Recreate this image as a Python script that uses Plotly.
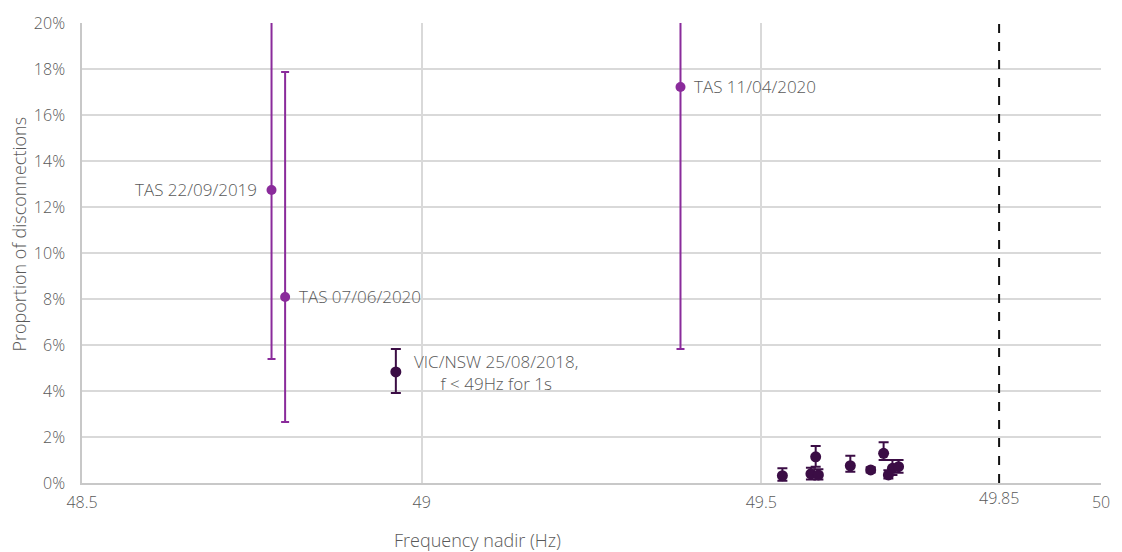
import plotly.graph_objects as go

# ---- data ----
tas_labels = ["TAS 22/09/2019", "TAS 07/06/2020", "TAS 11/04/2020"]
tas_freq = [48.779, 48.799, 49.381]
tas_prop = [0.1274, 0.0809, 0.1722]
tas_upper = [0.26, 0.1787, 0.26]
tas_lower = [0.0539, 0.0265, 0.0583]

other_freq = [48.962, 49.531, 49.573, 49.584, 49.580, 49.631, 49.661, 49.680, 49.693, 49.702, 49.687]
other_prop = [0.0483, 0.0032, 0.0040, 0.0035, 0.0114, 0.0075, 0.0057, 0.0129, 0.0064, 0.0071, 0.0035]
other_upper = [0.0583, 0.0064, 0.0066, 0.0060, 0.0161, 0.0119, 0.0068, 0.0177, 0.0100, 0.0100, 0.0055]
other_lower = [0.0391, 0.0010, 0.0015, 0.0015, 0.0071, 0.0049, 0.0046, 0.0100, 0.0035, 0.0045, 0.0020]

vic_label = "VIC/NSW 25/08/2018,<br>f < 49Hz for 1s"
threshold = 49.85
x_ticks = [48.5, 49, 49.5, 50]

PURPLE = "#8a2b9b"
DARK = "#3b0d45"
TEXT = "#595959"
GRID = "#d9d9d9"
FONT = "Open Sans"
W = 300

fig = go.Figure()

fig.add_trace(go.Scatter(
    x=tas_freq, y=tas_prop, mode="markers",
    marker=dict(color=PURPLE, size=10),
    error_y=dict(type="data", symmetric=False,
                 array=[u - p for u, p in zip(tas_upper, tas_prop)],
                 arrayminus=[p - l for p, l in zip(tas_prop, tas_lower)],
                 color=PURPLE, thickness=2, width=4),
    showlegend=False, hoverinfo="x+y"))

fig.add_trace(go.Scatter(
    x=other_freq, y=other_prop, mode="markers",
    marker=dict(color=DARK, size=11),
    error_y=dict(type="data", symmetric=False,
                 array=[u - p for u, p in zip(other_upper, other_prop)],
                 arrayminus=[p - l for p, l in zip(other_prop, other_lower)],
                 color=DARK, thickness=2, width=5),
    showlegend=False, hoverinfo="x+y"))

# threshold line
fig.add_shape(type="line", xref="x", yref="y", x0=threshold, x1=threshold, y0=0, y1=0.2,
              line=dict(color="#111111", width=2, dash="dash"))

lab_font = dict(size=17, color=TEXT, family=FONT, weight=W)

# point labels
fig.add_annotation(x=tas_freq[0], y=tas_prop[0], text=tas_labels[0], showarrow=False,
                   xanchor="right", xshift=-13, font=lab_font)
fig.add_annotation(x=tas_freq[1], y=tas_prop[1], text=tas_labels[1], showarrow=False,
                   xanchor="left", xshift=12, font=lab_font)
fig.add_annotation(x=tas_freq[2], y=tas_prop[2], text=tas_labels[2], showarrow=False,
                   xanchor="left", xshift=12, font=lab_font)
fig.add_annotation(x=other_freq[0], y=other_prop[0], text=vic_label, showarrow=False,
                   xanchor="left", xshift=16, yshift=-1, align="center", font=lab_font)

# threshold tick label
fig.add_annotation(x=threshold, y=0, yref="y", text=str(threshold), showarrow=False,
                   yanchor="top", yshift=-2, font=dict(size=16, color=TEXT, family=FONT, weight=W))

# axis titles
fig.add_annotation(xref="paper", yref="paper", x=(481 - 82) / 1027, y=-57 / 460,
                   text="Frequency nadir (Hz)", showarrow=False,
                   xanchor="center", yanchor="middle",
                   font=dict(size=18, color=TEXT, family=FONT, weight=W))
fig.add_annotation(xref="paper", yref="paper", x=-63 / 1027, y=(483 - 234) / 460,
                   text="Proportion of disconnections", showarrow=False, textangle=-90,
                   xanchor="center", yanchor="middle",
                   font=dict(size=18, color=TEXT, family=FONT, weight=W))

fig.update_layout(
    width=1122, height=552,
    margin=dict(l=82, r=13, t=23, b=69),
    paper_bgcolor="white", plot_bgcolor="white",
    font=dict(family=FONT, size=16, color=TEXT, weight=W),
    xaxis=dict(range=[48.5, 50], tickvals=x_ticks, ticktext=[str(v) for v in x_ticks],
               showgrid=True, gridcolor=GRID, gridwidth=1.5, zeroline=False,
               showline=True, linecolor="#c8c8c8", linewidth=1.5,
               ticks="", ticklabelstandoff=4,
               tickfont=dict(size=16, color=TEXT, family=FONT, weight=W)),
    yaxis=dict(range=[0, 0.2], dtick=0.02, tickformat=".0%",
               showgrid=True, gridcolor=GRID, gridwidth=1.5, zeroline=False,
               showline=True, linecolor="#c8c8c8", linewidth=1.5,
               ticks="", ticklabelstandoff=12,
               tickfont=dict(size=16, color=TEXT, family=FONT, weight=W)),
)

# remove the default page margin so the 1122x552 figure fills the window exactly
fig.write_html(
    "out.html",
    config={"displayModeBar": False, "responsive": False},
    post_script=(
        "document.body.style.margin='0';"
        "document.body.style.overflow='hidden';"
        "Plotly.relayout(document.getElementById('{plot_id}'), {width:1122, height:552});"
    ),
)
